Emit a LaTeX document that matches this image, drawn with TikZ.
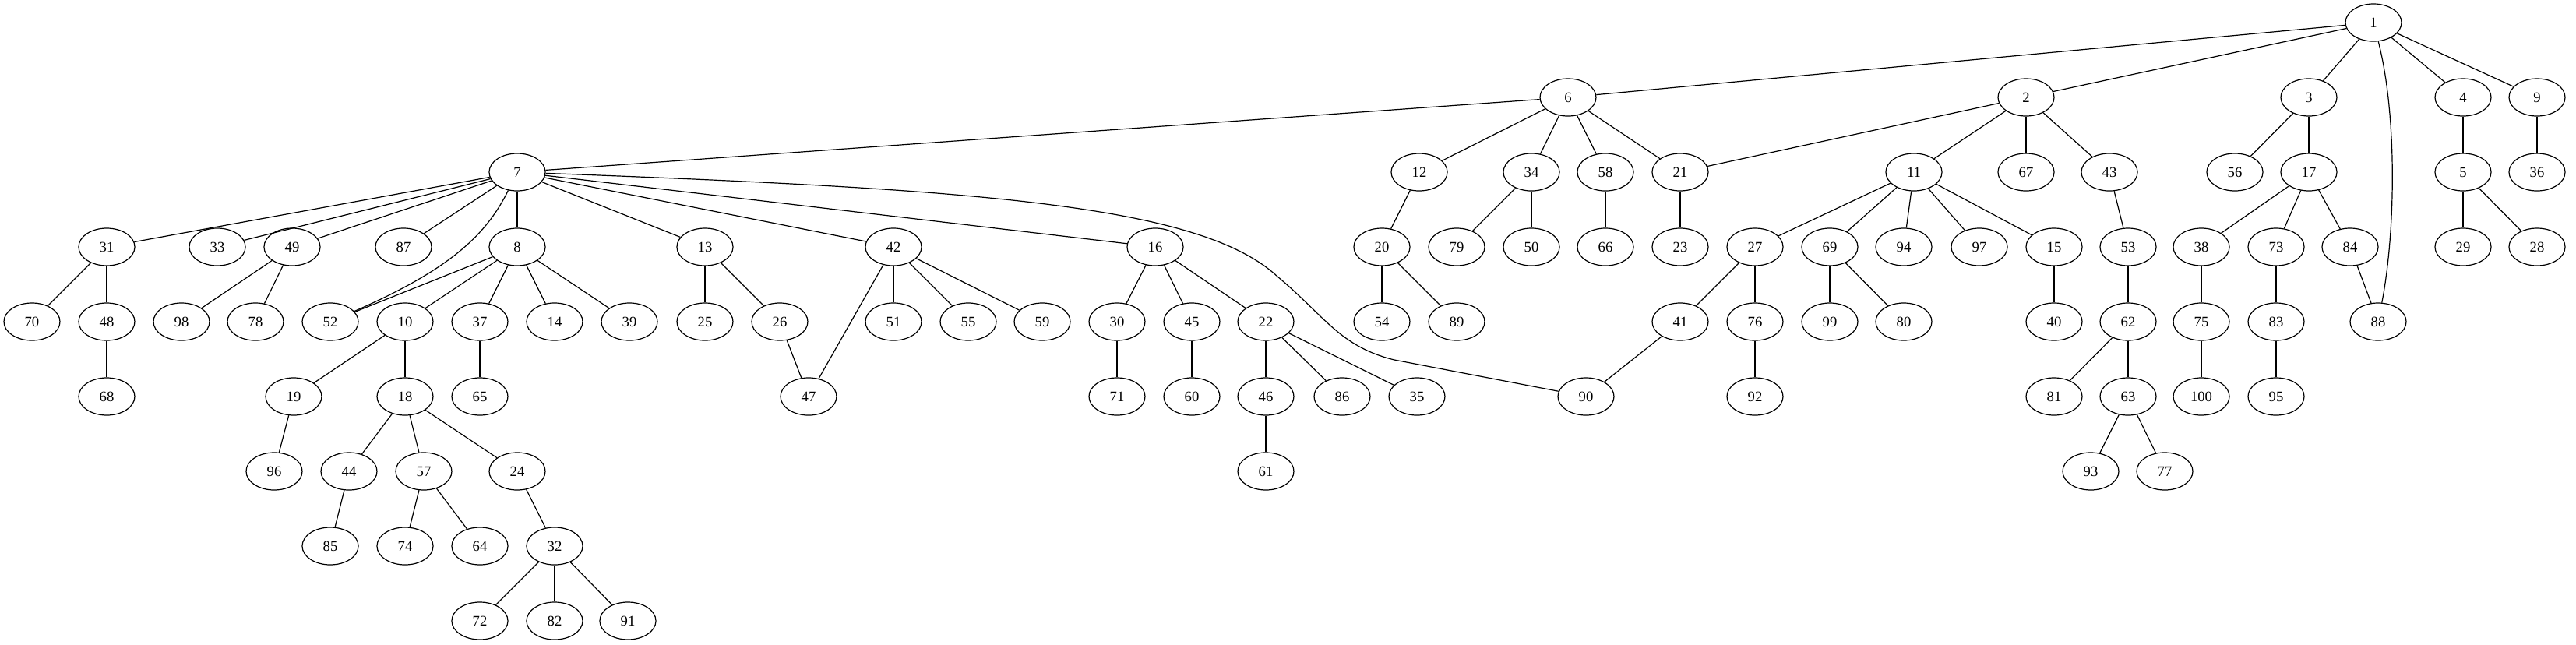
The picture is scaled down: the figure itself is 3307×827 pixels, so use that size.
\documentclass[tikz,border=0pt]{standalone}
\usepackage{fontspec}
\setmainfont{Liberation Serif}
\usetikzlibrary{shapes.geometric}
\begin{document}
\begin{tikzpicture}[x=0.7496pt,y=-0.7496pt,
  nd/.style={draw, ellipse, line width=0.9pt, minimum width=54pt, minimum height=36pt, inner sep=0pt, font=\fontsize{14}{16}\selectfont},
  edge/.style={line width=0.9pt}]
\useasboundingbox (0,0) rectangle (3307,827);
% rank 0
\node[nd] (n1) at (3047,29) {1};
% rank 1
\foreach \n/\x in {6/2013,2/2601,3/2964,4/3162,9/3257}
  \node[nd] (n\n) at (\x,125) {\n};
% rank 2
\foreach \n/\x in {7/664,12/1822,34/1966,58/2061,21/2157,11/2457,67/2601,43/2708,56/2869,17/2964,5/3162,36/3257}
  \node[nd] (n\n) at (\x,221) {\n};
% rank 3
\foreach \n/\x in {31/137,33/279,49/375,87/518,8/664,13/905,42/1147,16/1483,20/1774,79/1870,50/1966,66/2061,23/2157,27/2253,69/2349,94/2444,97/2541,15/2637,53/2732,38/2826,73/2922,84/3017,29/3162,28/3257}
  \node[nd] (n\n) at (\x,317) {\n};
% rank 4
\foreach \n/\x in {70/41,48/137,98/233,78/328,52/424,10/520,37/616,14/712,39/808,25/905,26/1001,51/1147,55/1243,59/1338,30/1434,45/1530,22/1625,54/1774,89/1870,41/2157,76/2253,99/2349,80/2444,40/2637,62/2732,75/2826,83/2922,88/3053}
  \node[nd] (n\n) at (\x,413) {\n};
% rank 5
\foreach \n/\x in {68/137,19/377,18/520,65/616,47/1038,71/1434,60/1530,46/1625,86/1723,35/1819,90/2036,92/2253,81/2637,63/2732,100/2826,95/2922}
  \node[nd] (n\n) at (\x,509) {\n};
% rank 6
\foreach \n/\x in {96/352,44/448,57/544,24/664,61/1625,93/2684,77/2779}
  \node[nd] (n\n) at (\x,605) {\n};
% rank 7
\foreach \n/\x in {85/424,74/520,64/616,32/712}
  \node[nd] (n\n) at (\x,701) {\n};
% rank 8
\foreach \n/\x in {72/616,82/712,91/806}
  \node[nd] (n\n) at (\x,797) {\n};
% straight edges
\foreach \a/\b in {1/6,1/2,1/3,1/4,1/9,
  6/7,6/12,6/34,6/58,6/21,
  2/21,2/11,2/67,2/43,
  3/56,3/17,4/5,9/36,
  7/31,7/33,7/49,7/87,7/8,7/13,7/42,7/16,
  12/20,34/79,34/50,58/66,21/23,
  11/27,11/69,11/94,11/97,11/15,
  43/53,17/38,17/73,17/84,5/29,5/28,
  31/70,31/48,49/98,49/78,
  8/52,8/10,8/37,8/14,8/39,
  13/25,13/26,42/47,42/51,42/55,42/59,
  16/30,16/45,16/22,20/54,20/89,
  27/41,27/76,69/99,69/80,15/40,53/62,38/75,73/83,84/88,
  48/68,10/19,10/18,37/65,26/47,30/71,45/60,22/46,22/86,22/35,41/90,76/92,62/81,62/63,75/100,83/95,
  19/96,18/44,18/57,18/24,46/61,63/93,63/77,
  44/85,57/74,57/64,24/32,
  32/72,32/82,32/91}
  \draw[edge] (n\a) -- (n\b);
% curved edges
\draw[edge] (n7) .. controls (1250,243) and (1540,262) .. (1640,355)
  .. controls (1700,405) and (1720,445) .. (1790,462) -- (n90);
\draw[edge] (n7) .. controls (625,300) and (580,345) .. (n52);
\draw[edge] (n1) .. controls (3078,150) and (3075,300) .. (n88);
\end{tikzpicture}
\end{document}
